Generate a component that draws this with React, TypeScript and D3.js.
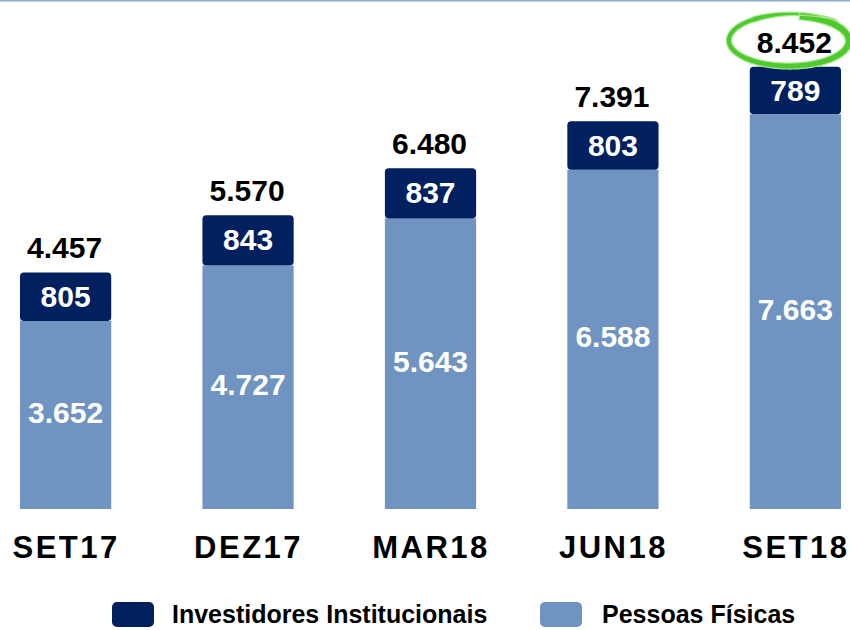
import * as d3 from "d3";
import React, {useEffect, useRef} from "react";

const categories = ["SET17", "DEZ17", "MAR18", "JUN18", "SET18"];
const institucionais = [805, 843, 837, 803, 789];
const pessoasFisicas = [3652, 4727, 5643, 6588, 7663];
const legendLabels = ["Investidores Institucionais", "Pessoas Físicas"];

const WIDTH = 850;
const HEIGHT = 630;
const DARK = "#002060";
const LIGHT = "#6f94c1";
const FONT = "'Liberation Sans', Arial, sans-serif";

const ptBR = d3.formatLocale({decimal: ",", thousands: ".", grouping: [3], currency: ["R$", ""]});
const fmt = ptBR.format(",d");

const useD3 = (renderChartFn: (svg: any) => void, dependencies: any[]) => {
    const ref = useRef<SVGSVGElement>(null);
    useEffect(() => {
        renderChartFn(d3.select(ref.current));
        return () => {};
    }, dependencies);
    return ref;
};

const App = () => {
    const ref = useD3((svg) => {
        svg.selectAll("*").remove();

        const data = categories.map((c, i) => ({
            cat: c,
            inst: institucionais[i],
            pf: pessoasFisicas[i],
            total: institucionais[i] + pessoasFisicas[i],
        }));

        const x = d3.scaleBand().domain(categories).range([20, 841]).paddingInner(0.5).paddingOuter(0);
        const y = d3.scaleLinear().domain([0, 10000]).range([509, 509 - 515]);
        const bw = x.bandwidth();
        const capPad = 7; // dark block sits a bit proud of its value

        // thin rule along the top
        svg.append("line")
            .attr("x1", 0).attr("x2", WIDTH)
            .attr("y1", 0.75).attr("y2", 0.75)
            .attr("stroke", "#8fa9c9")
            .attr("stroke-width", 1.5);

        const g = svg.append("g");

        // pessoas fisicas (bottom)
        g.selectAll("rect.pf")
            .data(data)
            .enter()
            .append("rect")
            .attr("class", "pf")
            .attr("x", (d) => x(d.cat))
            .attr("y", (d) => y(d.pf))
            .attr("width", bw)
            .attr("height", (d) => y(0) - y(d.pf))
            .attr("fill", LIGHT);

        // investidores institucionais (top)
        g.selectAll("rect.inst")
            .data(data)
            .enter()
            .append("rect")
            .attr("class", "inst")
            .attr("x", (d) => x(d.cat))
            .attr("y", (d) => y(d.total) - capPad)
            .attr("width", bw)
            .attr("height", (d) => y(d.pf) - y(d.total) + capPad)
            .attr("rx", 4)
            .attr("fill", DARK);

        const text = (sel, size) => sel
            .attr("font-family", FONT)
            .attr("font-weight", "bold")
            .attr("font-size", size)
            .attr("text-anchor", "middle");

        // value inside light segment
        text(g.selectAll("text.pf").data(data).enter().append("text"), 30)
            .attr("x", (d) => x(d.cat) + bw / 2)
            .attr("y", (d) => (y(d.pf) + y(0)) / 2 + 8)
            .attr("fill", "#fff")
            .text((d) => fmt(d.pf));

        // value inside dark segment
        text(g.selectAll("text.inst").data(data).enter().append("text"), 30)
            .attr("x", (d) => x(d.cat) + bw / 2)
            .attr("y", (d) => (y(d.total) - capPad + y(d.pf)) / 2 + 10)
            .attr("fill", "#fff")
            .text((d) => fmt(d.inst));

        // totals
        text(g.selectAll("text.total").data(data).enter().append("text"), 30)
            .attr("x", (d) => x(d.cat) + bw / 2 - 1)
            .attr("y", (d) => y(d.total) - capPad - 14)
            .attr("fill", "#000")
            .text((d) => fmt(d.total));

        // categories
        text(g.selectAll("text.cat").data(data).enter().append("text"), 31)
            .attr("x", (d) => x(d.cat) + bw / 2 + 0.5)
            .attr("y", 558)
            .attr("letter-spacing", 2.5)
            .attr("fill", "#000")
            .text((d) => d.cat);

        // green hand drawn ring around the last total
        const last = data[data.length - 1];
        const cx = x(last.cat) + bw / 2 - 6;
        const cy = y(last.total) - capPad - 26;
        const rx = 59, ry = 25;
        const t0 = -1.4, span = 2 * Math.PI + 0.6;
        const n = 160;
        const outer = [], inner = [];
        for (let i = 0; i <= n; i++) {
            const p = i / n;
            const t = t0 + span * p;
            const grow = 1 + 0.12 * Math.pow(p, 8) + 0.03 * p;
            const w = p < 0.8 ? 7.5 - 3.5 * p : 4.7 * (1 - p) / 0.2 + 0.8;
            const ex = cx + rx * grow * Math.cos(t);
            const ey = cy + ry * grow * Math.sin(t);
            let nx = Math.cos(t) / rx, ny = Math.sin(t) / ry;
            const len = Math.hypot(nx, ny);
            nx /= len; ny /= len;
            outer.push([ex + nx * w / 2, ey + ny * w / 2]);
            inner.push([ex - nx * w / 2, ey - ny * w / 2]);
        }
        const ring = outer.concat(inner.reverse());
        svg.append("path")
            .attr("d", d3.line().curve(d3.curveLinearClosed)(ring as [number, number][]))
            .attr("fill", "#4ec92e")
            .attr("stroke", "#a6e88c")
            .attr("stroke-width", 1.2)
            .attr("stroke-linejoin", "round");

        // legend
        const legend = svg.append("g");
        const items = [
            {label: legendLabels[0], color: DARK, x: 112, tx: 172},
            {label: legendLabels[1], color: LIGHT, x: 540, tx: 602},
        ];
        items.forEach((it) => {
            legend.append("rect")
                .attr("x", it.x).attr("y", 602)
                .attr("width", 42).attr("height", 25)
                .attr("rx", 5)
                .attr("fill", it.color);
            legend.append("text")
                .attr("x", it.tx).attr("y", 623)
                .attr("font-family", FONT)
                .attr("font-weight", "bold")
                .attr("font-size", 25)
                .attr("fill", "#000")
                .text(it.label);
        });
    }, []);

    return (
        <svg
            ref={ref}
            width={WIDTH}
            height={HEIGHT}
            style={{position: "absolute", left: 0, top: 0, background: "#fff"}}
        />
    );
};

export default App;
